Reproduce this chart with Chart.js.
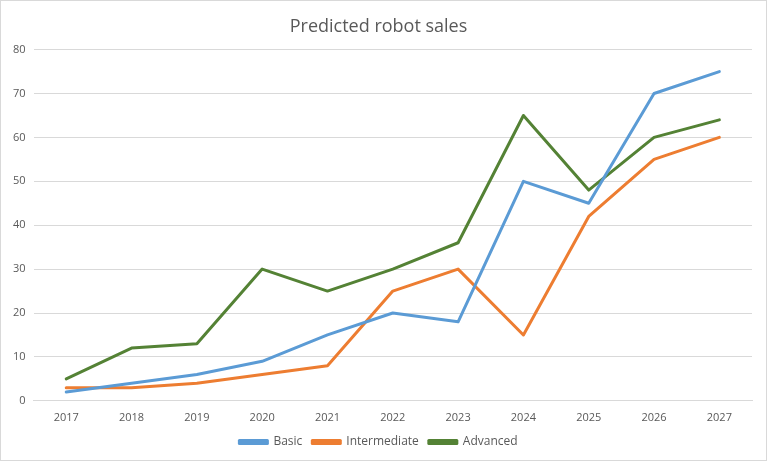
<!DOCTYPE html>
<html>
<head>
<meta charset="utf-8">
<script src="https://cdn.jsdelivr.net/npm/chart.js@4"></script>
<style>
  html, body { margin: 0; padding: 0; background: #fff; }
  .box { width: 767px; height: 461px; box-sizing: border-box; border: 1px solid #d9d9d9; }
</style>
</head>
<body>
<div class="box"><canvas id="salesChart" width="765" height="459"></canvas></div>
<script>
const years = ['2017', '2018', '2019', '2020', '2021', '2022', '2023', '2024', '2025', '2026', '2027'];
const basic = [2, 4, 6, 9, 15, 20, 18, 50, 45, 70, 75];
const intermediate = [3, 3, 4, 6, 8, 25, 30, 15, 42, 55, 60];
const advanced = [5, 12, 13, 30, 25, 30, 36, 65, 48, 60, 64];

const ctx = document.getElementById('salesChart').getContext('2d');
new Chart(ctx, {
    type: 'line',
    data: {
        labels: years,
        datasets: [
            { label: 'Basic', data: basic, borderColor: '#5b9bd5', backgroundColor: '#5b9bd5' },
            { label: 'Intermediate', data: intermediate, borderColor: '#ed7d31', backgroundColor: '#ed7d31' },
            { label: 'Advanced', data: advanced, borderColor: '#548235', backgroundColor: '#548235' }
        ]
    },
    options: {
        responsive: false,
        animation: false,
        layout: { padding: { left: 4, right: 14, top: 4, bottom: 2 } },
        elements: {
            line: { borderWidth: 3, tension: 0, borderCapStyle: 'round', borderJoinStyle: 'round' },
            point: { radius: 0 }
        },
        plugins: {
            title: {
                display: true,
                text: 'Predicted robot sales',
                color: '#595959',
                font: { family: 'Open Sans', size: 18, weight: 'normal' },
                padding: { top: 11, bottom: 12 }
            },
            legend: {
                position: 'bottom',
                labels: {
                    color: '#595959',
                    font: { family: 'Open Sans', size: 12 },
                    boxWidth: 28,
                    boxHeight: 3,
                    padding: 10
                }
            },
            tooltip: { enabled: false }
        },
        scales: {
            x: {
                offset: true,
                grid: { display: false },
                border: { color: '#d9d9d9' },
                ticks: { color: '#595959', font: { family: 'Open Sans', size: 11 }, padding: 2, maxRotation: 0 }
            },
            y: {
                min: 0,
                max: 80,
                ticks: { stepSize: 10, color: '#595959', font: { family: 'Open Sans', size: 11 }, padding: 8 },
                grid: { color: '#d9d9d9', drawTicks: false },
                border: { display: false }
            }
        }
    }
});
</script>
</body>
</html>
